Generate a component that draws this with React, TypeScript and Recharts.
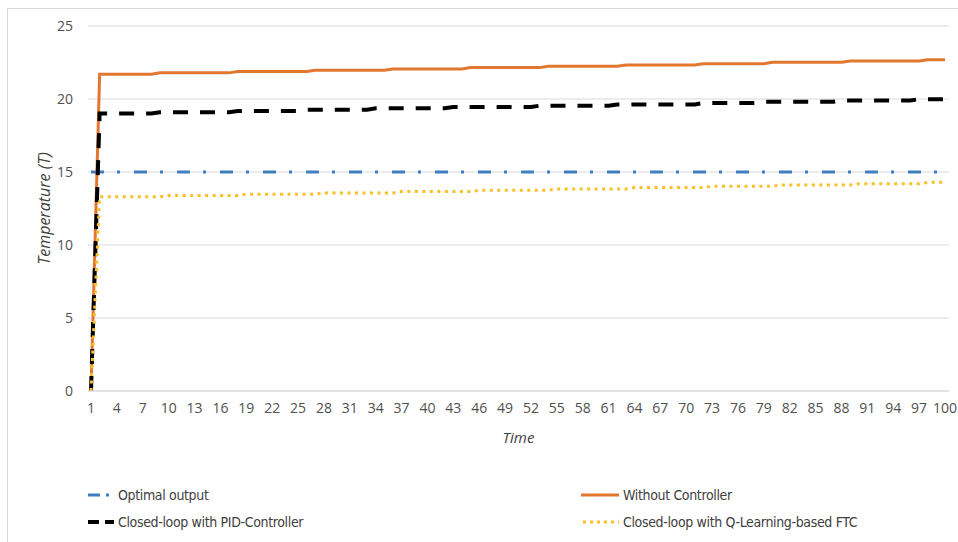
import { LineChart, Line, XAxis, YAxis, CartesianGrid } from 'recharts';

// time steps 1..100
const time: number[] = Array.from({ length: 100 }, (_, i) => i + 1);

const optimalOutput = [
  15, 15, 15, 15, 15, 15, 15, 15, 15, 15,
  15, 15, 15, 15, 15, 15, 15, 15, 15, 15,
  15, 15, 15, 15, 15, 15, 15, 15, 15, 15,
  15, 15, 15, 15, 15, 15, 15, 15, 15, 15,
  15, 15, 15, 15, 15, 15, 15, 15, 15, 15,
  15, 15, 15, 15, 15, 15, 15, 15, 15, 15,
  15, 15, 15, 15, 15, 15, 15, 15, 15, 15,
  15, 15, 15, 15, 15, 15, 15, 15, 15, 15,
  15, 15, 15, 15, 15, 15, 15, 15, 15, 15,
  15, 15, 15, 15, 15, 15, 15, 15, 15, 15,
];

const withoutController = [
  0, 21.7, 21.7, 21.7, 21.7, 21.7, 21.7, 21.7, 21.79, 21.79,
  21.79, 21.79, 21.79, 21.79, 21.79, 21.79, 21.79, 21.88, 21.88, 21.88,
  21.88, 21.88, 21.88, 21.88, 21.88, 21.88, 21.97, 21.97, 21.97, 21.97,
  21.97, 21.97, 21.97, 21.97, 21.97, 22.06, 22.06, 22.06, 22.06, 22.06,
  22.06, 22.06, 22.06, 22.06, 22.15, 22.15, 22.15, 22.15, 22.15, 22.15,
  22.15, 22.15, 22.15, 22.24, 22.24, 22.24, 22.24, 22.24, 22.24, 22.24,
  22.24, 22.24, 22.33, 22.33, 22.33, 22.33, 22.33, 22.33, 22.33, 22.33,
  22.33, 22.42, 22.42, 22.42, 22.42, 22.42, 22.42, 22.42, 22.42, 22.51,
  22.51, 22.51, 22.51, 22.51, 22.51, 22.51, 22.51, 22.51, 22.6, 22.6,
  22.6, 22.6, 22.6, 22.6, 22.6, 22.6, 22.6, 22.69, 22.69, 22.69,
];

const pidController = [
  0, 19, 19, 19, 19, 19, 19, 19, 19.09, 19.09,
  19.09, 19.09, 19.09, 19.09, 19.09, 19.09, 19.09, 19.18, 19.18, 19.18,
  19.18, 19.18, 19.18, 19.18, 19.18, 19.27, 19.27, 19.27, 19.27, 19.27,
  19.27, 19.27, 19.27, 19.36, 19.36, 19.36, 19.36, 19.36, 19.36, 19.36,
  19.36, 19.36, 19.45, 19.45, 19.45, 19.45, 19.45, 19.45, 19.45, 19.45,
  19.45, 19.45, 19.54, 19.54, 19.54, 19.54, 19.54, 19.54, 19.54, 19.54,
  19.54, 19.63, 19.63, 19.63, 19.63, 19.63, 19.63, 19.63, 19.63, 19.63,
  19.63, 19.72, 19.72, 19.72, 19.72, 19.72, 19.72, 19.72, 19.81, 19.81,
  19.81, 19.81, 19.81, 19.81, 19.81, 19.81, 19.81, 19.9, 19.9, 19.9,
  19.9, 19.9, 19.9, 19.9, 19.9, 19.9, 19.99, 19.99, 19.99, 19.99,
];

const qLearningFtc = [
  0, 13.3, 13.3, 13.3, 13.3, 13.3, 13.3, 13.3, 13.3, 13.39,
  13.39, 13.39, 13.39, 13.39, 13.39, 13.39, 13.39, 13.39, 13.48, 13.48,
  13.48, 13.48, 13.48, 13.48, 13.48, 13.48, 13.48, 13.57, 13.57, 13.57,
  13.57, 13.57, 13.57, 13.57, 13.57, 13.57, 13.66, 13.66, 13.66, 13.66,
  13.66, 13.66, 13.66, 13.66, 13.66, 13.75, 13.75, 13.75, 13.75, 13.75,
  13.75, 13.75, 13.75, 13.75, 13.84, 13.84, 13.84, 13.84, 13.84, 13.84,
  13.84, 13.84, 13.84, 13.93, 13.93, 13.93, 13.93, 13.93, 13.93, 13.93,
  13.93, 13.93, 14.02, 14.02, 14.02, 14.02, 14.02, 14.02, 14.02, 14.02,
  14.11, 14.11, 14.11, 14.11, 14.11, 14.11, 14.11, 14.11, 14.11, 14.2,
  14.2, 14.2, 14.2, 14.2, 14.2, 14.2, 14.2, 14.29, 14.29, 14.29,
];

const yTicks = [0, 5, 10, 15, 20, 25];

const data = time.map((t, i) => ({
  t,
  optimal: optimalOutput[i],
  without: withoutController[i],
  pid: pidController[i],
  ql: qLearningFtc[i],
}));

const BLUE = '#3f7fbf';
const ORANGE = '#e2772f';
const YELLOW = '#fbbf2a';
const tickStyle = { fill: '#505050', fontSize: 14, fontFamily: 'Open Sans, sans-serif' };
const legendFont = "'Liberation Sans Narrow', 'DejaVu Sans Condensed', sans-serif";

function LegendItem({ x, y, icon, label }: { x: number; y: number; icon: JSX.Element; label: string }) {
  return (
    <div style={{ position: 'absolute', left: x, top: y - 10, height: 20, display: 'flex', alignItems: 'center' }}>
      {icon}
      <span style={{ fontFamily: legendFont, fontSize: 14, letterSpacing: -0.35, color: '#404040', marginLeft: 4, whiteSpace: 'nowrap' }}>{label}</span>
    </div>
  );
}

const icon = (w: number, color: string, width: number, dash?: string) => (
  <svg width={w} height={10}>
    <line x1={0} y1={5} x2={w} y2={5} stroke={color} strokeWidth={width} strokeDasharray={dash} />
  </svg>
);

export default function App() {
  return (
    <div style={{ position: 'absolute', left: 0, top: 0, width: 958, height: 542, background: '#fff', overflow: 'hidden' }}>
      <div style={{ position: 'absolute', left: 7, top: 8, right: -2, bottom: -2, borderLeft: '1px solid #d9d9d9', borderTop: '1px solid #d9d9d9' }} />
      <LineChart width={958} height={460} data={data} margin={{ top: 26, right: 9, left: 30, bottom: 13 }}>
        <CartesianGrid vertical={false} stroke="#d9d9d9" />
        <XAxis
          dataKey="t"
          interval={2}
          padding={{ left: 3, right: 4 }}
          axisLine={{ stroke: '#d9d9d9' }}
          tickLine={false}
          tickSize={6}
          tickMargin={6}
          tick={tickStyle}
          height={56}
          label={{ value: 'Time', position: 'insideBottom', offset: 4, style: { fill: '#404040', fontSize: 15, fontStyle: 'italic', fontFamily: 'Open Sans, sans-serif' } }}
        />
        <YAxis
          domain={[0, 25]}
          ticks={yTicks}
          axisLine={false}
          tickLine={false}
          tickSize={0}
          tickMargin={15}
          tick={tickStyle}
          width={58}
          label={{ value: 'Temperature (T)', angle: -90, position: 'insideLeft', offset: 14, style: { textAnchor: 'middle', fill: '#404040', fontSize: 16, fontStyle: 'italic', fontFamily: 'Open Sans, sans-serif' } }}
        />
        <Line type="linear" dataKey="optimal" stroke={BLUE} strokeWidth={3} strokeDasharray="13 13 3 14" dot={false} isAnimationActive={false} />
        <Line type="linear" dataKey="without" stroke={ORANGE} strokeWidth={3} dot={false} isAnimationActive={false} />
        <Line type="linear" dataKey="pid" stroke="#000" strokeWidth={4} strokeDasharray="15 12" dot={false} isAnimationActive={false} />
        <Line type="linear" dataKey="ql" stroke={YELLOW} strokeWidth={3} strokeDasharray="3 4.5" dot={false} isAnimationActive={false} />
      </LineChart>
      <LegendItem x={88} y={495} icon={icon(26, BLUE, 3, '12 6 3 20')} label="Optimal output" />
      <LegendItem x={581} y={495} icon={icon(38, ORANGE, 3)} label="Without Controller" />
      <LegendItem x={88} y={522} icon={icon(26, '#000', 4, '11 6')} label="Closed-loop with PID-Controller" />
      <LegendItem x={583} y={522} icon={icon(36, YELLOW, 3, '3 4')} label="Closed-loop with Q-Learning-based FTC" />
    </div>
  );
}
